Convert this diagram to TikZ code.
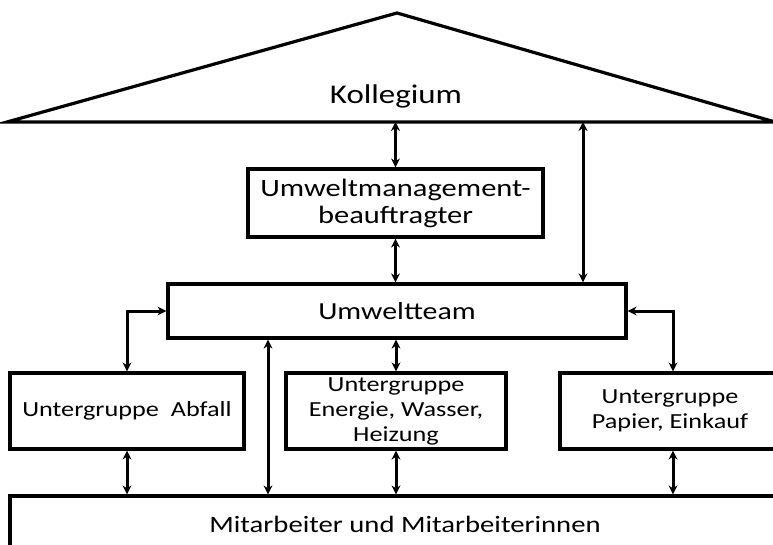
\documentclass[tikz,border=0pt]{standalone}
\usepackage{fontspec}
\setmainfont{Carlito}[FakeStretch=1.22]
\usetikzlibrary{arrows.meta}
\tikzset{bx/.append style={draw,rectangle,line width=3.2pt,inner sep=2pt,align=center}}
\tikzset{ug/.append style={bx,minimum width=220pt,minimum height=76pt,font=\fontsize{21.5}{25}\selectfont}}
\tikzset{ar/.append style={line width=3pt,{Stealth[length=9pt,width=9pt]}-{Stealth[length=9pt,width=9pt]}}}

\begin{document}
\begin{tikzpicture}[x=1pt,y=-1pt]
                \useasboundingbox (0,0) rectangle (773,545);
                \clip (0,0) rectangle (773,545);
                % Dach
                \draw[line width=3.2pt,line join=miter] (7,122) -- (397,13) -- (775,122) -- cycle;
                \coordinate (base) at (7,122);
                \node[font=\fontsize{27}{30}\selectfont] (koll) at (396,96) {Kollegium};
                \node[bx,minimum width=295pt,minimum height=68pt,font=\fontsize{25}{27}\selectfont] (umb) at (395.5,203) {Umweltmanagement-\\beauftragter};
                \node[bx,minimum width=458pt,minimum height=54pt,font=\fontsize{24.5}{28}\selectfont] (team) at (397,311) {Umweltteam};
                \node[ug,minimum width=234pt] (abf) at (127,411) {Untergruppe\ \ Abfall};
                \node[ug] (ene) at (396,411) {Untergruppe\\Energie, Wasser,\\Heizung};
                \node[ug] (pap) at (670,411) {Untergruppe\\Papier, Einkauf};
                \node[bx,minimum width=790pt,minimum height=56pt,font=\fontsize{23.5}{28}\selectfont] (mit) at (405,524) {Mitarbeiter und Mitarbeiterinnen};
                \coordinate (papn) at ([xshift=3pt]pap.north);
                \coordinate (paps) at ([xshift=3pt]pap.south);
                % Pfeile
                \draw[ar] (base -| umb.north) -- (umb.north);
                \draw[ar] (umb.south) -- (team.north -| umb.south);
                \draw[ar] (base -| 583,0) -- (team.north -| 583,0);
                \draw[ar] (team.west) -| (abf.north);
                \draw[ar] (team.east) -| (papn);
                \draw[ar] (team.south -| 268,0) -- (mit.north -| 268,0);
                \draw[ar] (team.south -| ene.north) -- (ene.north);
                \draw[ar] (abf.south) -- (mit.north -| abf.south);
                \draw[ar] (ene.south) -- (mit.north -| ene.south);
                \draw[ar] (paps) -- (mit.north -| paps);
            \end{tikzpicture}
\end{document}
